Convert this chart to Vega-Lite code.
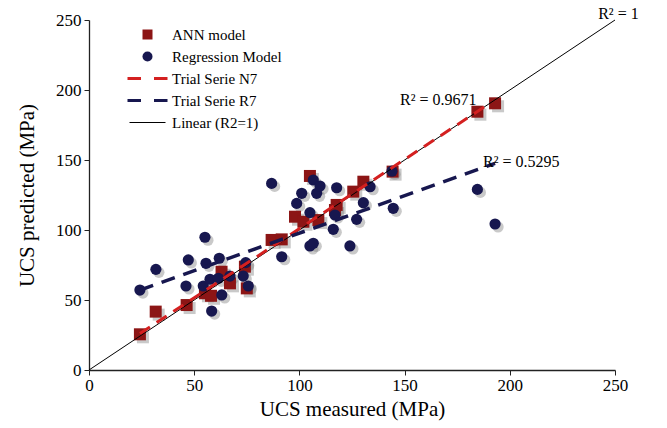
{
  "$schema": "https://vega.github.io/schema/vega-lite/v6.json",
  "width": 526,
  "height": 350,
  "autosize": {"type": "none"},
  "padding": {"left": 89, "top": 20, "right": 52, "bottom": 58},
  "background": "white",
  "config": {
    "view": {"stroke": null},
    "axis": {
      "grid": false,
      "domainColor": "#222",
      "domainWidth": 1.3,
      "tickColor": "#222",
      "tickSize": 5
    }
  },
  "datasets": {
    "pts": [
      {"series": "ANN model", "measured": 24.2, "predicted": 25.5},
      {"series": "ANN model", "measured": 31.7, "predicted": 41.7},
      {"series": "ANN model", "measured": 46.4, "predicted": 46.4},
      {"series": "ANN model", "measured": 55.1, "predicted": 54.8},
      {"series": "ANN model", "measured": 58.0, "predicted": 53.0},
      {"series": "ANN model", "measured": 63.0, "predicted": 70.2},
      {"series": "ANN model", "measured": 67.0, "predicted": 61.9},
      {"series": "ANN model", "measured": 74.1, "predicted": 73.8},
      {"series": "ANN model", "measured": 75.0, "predicted": 58.3},
      {"series": "ANN model", "measured": 86.8, "predicted": 92.9},
      {"series": "ANN model", "measured": 91.6, "predicted": 93.3},
      {"series": "ANN model", "measured": 97.9, "predicted": 109.5},
      {"series": "ANN model", "measured": 101.9, "predicted": 105.9},
      {"series": "ANN model", "measured": 105.0, "predicted": 138.6},
      {"series": "ANN model", "measured": 109.0, "predicted": 107.1},
      {"series": "ANN model", "measured": 116.9, "predicted": 114.3},
      {"series": "ANN model", "measured": 117.7, "predicted": 117.9},
      {"series": "ANN model", "measured": 125.6, "predicted": 127.4},
      {"series": "ANN model", "measured": 130.4, "predicted": 134.5},
      {"series": "ANN model", "measured": 144.3, "predicted": 141.7},
      {"series": "ANN model", "measured": 184.6, "predicted": 184.5},
      {"series": "ANN model", "measured": 193.0, "predicted": 190.5},
      {"series": "Regression Model", "measured": 24.2, "predicted": 57.1},
      {"series": "Regression Model", "measured": 31.8, "predicted": 71.9},
      {"series": "Regression Model", "measured": 46.1, "predicted": 60.0},
      {"series": "Regression Model", "measured": 47.2, "predicted": 78.6},
      {"series": "Regression Model", "measured": 54.3, "predicted": 60.0},
      {"series": "Regression Model", "measured": 55.1, "predicted": 94.8},
      {"series": "Regression Model", "measured": 55.6, "predicted": 76.2},
      {"series": "Regression Model", "measured": 57.5, "predicted": 64.8},
      {"series": "Regression Model", "measured": 58.3, "predicted": 42.1},
      {"series": "Regression Model", "measured": 61.5, "predicted": 65.5},
      {"series": "Regression Model", "measured": 61.9, "predicted": 79.8},
      {"series": "Regression Model", "measured": 63.1, "predicted": 53.6},
      {"series": "Regression Model", "measured": 67.0, "predicted": 67.1},
      {"series": "Regression Model", "measured": 73.3, "predicted": 67.1},
      {"series": "Regression Model", "measured": 74.5, "predicted": 76.7},
      {"series": "Regression Model", "measured": 75.7, "predicted": 60.0},
      {"series": "Regression Model", "measured": 86.8, "predicted": 133.3},
      {"series": "Regression Model", "measured": 91.6, "predicted": 80.9},
      {"series": "Regression Model", "measured": 98.7, "predicted": 119.0},
      {"series": "Regression Model", "measured": 101.1, "predicted": 126.2},
      {"series": "Regression Model", "measured": 105.0, "predicted": 112.4},
      {"series": "Regression Model", "measured": 105.0, "predicted": 88.6},
      {"series": "Regression Model", "measured": 106.6, "predicted": 90.5},
      {"series": "Regression Model", "measured": 106.6, "predicted": 135.7},
      {"series": "Regression Model", "measured": 108.2, "predicted": 126.2},
      {"series": "Regression Model", "measured": 109.8, "predicted": 131.4},
      {"series": "Regression Model", "measured": 116.1, "predicted": 100.5},
      {"series": "Regression Model", "measured": 116.9, "predicted": 110.7},
      {"series": "Regression Model", "measured": 117.7, "predicted": 130.2},
      {"series": "Regression Model", "measured": 124.0, "predicted": 88.6},
      {"series": "Regression Model", "measured": 127.2, "predicted": 107.6},
      {"series": "Regression Model", "measured": 130.4, "predicted": 119.5},
      {"series": "Regression Model", "measured": 133.6, "predicted": 130.9},
      {"series": "Regression Model", "measured": 144.0, "predicted": 142.0},
      {"series": "Regression Model", "measured": 144.6, "predicted": 115.5},
      {"series": "Regression Model", "measured": 184.6, "predicted": 129.0},
      {"series": "Regression Model", "measured": 193.0, "predicted": 104.3}
    ],
    "trend": [
      {"series": "Linear (R2=1)", "measured": 0, "predicted": 0},
      {"series": "Linear (R2=1)", "measured": 250, "predicted": 250},
      {"series": "Trial Serie N7", "measured": 24.2, "predicted": 26},
      {"series": "Trial Serie N7", "measured": 190, "predicted": 190},
      {"series": "Trial Serie R7", "measured": 24.2, "predicted": 57.1},
      {"series": "Trial Serie R7", "measured": 193, "predicted": 147.6}
    ],
    "notes": [
      {"label": "R² = 1", "measured": 242, "predicted": 254},
      {"label": "R² = 0.9671", "measured": 147.8, "predicted": 192.9},
      {"label": "R² = 0.5295", "measured": 187.3, "predicted": 148.6}
    ]
  },
  "encoding": {
    "x": {
      "field": "measured",
      "type": "quantitative",
      "title": "UCS measured (MPa)",
      "scale": {"domain": [0, 250], "nice": false, "zero": false},
      "axis": {
        "values": [0, 50, 100, 150, 200, 250], "labelPadding": 2, "titlePadding": 5, "labelFlush": false,
        "labelFont": "Liberation Serif", "labelFontSize": 17, "labelColor": "#000",
        "titleFont": "Liberation Serif", "titleFontSize": 21, "titleFontWeight": "normal", "titleColor": "#000"
      }
    },
    "y": {
      "field": "predicted",
      "type": "quantitative",
      "title": "UCS predicted (MPa)",
      "scale": {"domain": [0, 250], "nice": false, "zero": false},
      "axis": {
        "values": [0, 50, 100, 150, 200, 250], "labelPadding": 3, "titlePadding": 18, "labelFlush": false,
        "labelFont": "Liberation Serif", "labelFontSize": 17, "labelColor": "#000",
        "titleFont": "Liberation Serif", "titleFontSize": 21, "titleFontWeight": "normal", "titleColor": "#000"
      }
    }
  },
  "layer": [
    {
      "data": {"name": "pts"},
      "transform": [{"filter": "datum.series === 'ANN model'"}],
      "mark": {"type": "point", "shape": "square", "filled": true, "size": 144, "color": "#777", "opacity": 0.4, "xOffset": 3, "yOffset": 3}
    },
    {
      "data": {"name": "pts"},
      "transform": [{"filter": "datum.series === 'Regression Model'"}],
      "mark": {"type": "point", "shape": "circle", "filled": true, "size": 125, "color": "#777", "opacity": 0.4, "xOffset": 3, "yOffset": 3}
    },
    {
      "data": {"name": "pts"},
      "transform": [{"filter": "datum.series === 'ANN model'"}],
      "mark": {"type": "point", "filled": true, "size": 144, "opacity": 1},
      "encoding": {
        "color": {
          "field": "series",
          "type": "nominal",
          "scale": {
            "domain": ["ANN model", "Regression Model", "Trial Serie N7", "Trial Serie R7", "Linear (R2=1)"],
            "range": ["#8c1515", "#17174f", "#d42020", "#17174f", "#000000"]
          },
          "legend": {
            "title": null,
            "orient": "none",
            "legendX": 51,
            "legendY": 7,
            "padding": 0,
            "symbolSize": 100,
            "labelFont": "Liberation Serif",
            "labelFontSize": 15,
            "labelColor": "#000",
            "labelOffset": 17,
            "rowPadding": 6,
            "symbolOpacity": 1,
            "encode": {
              "symbols": {
                "update": {
                  "stroke": {"signal": "scale('color', datum.value)"},
                  "strokeWidth": {"signal": "datum.value === 'Linear (R2=1)' ? 1 : (datum.value === 'ANN model' || datum.value === 'Regression Model') ? 0 : 3"}
                }
              }
            }
          }
        },
        "shape": {
          "field": "series",
          "type": "nominal",
          "scale": {
            "domain": ["ANN model", "Regression Model", "Trial Serie N7", "Trial Serie R7", "Linear (R2=1)"],
            "range": ["square", "circle", "M-4,0H-1.3M1.3,0H4", "M-4,0H-1.3M1.3,0H4", "M-3.6,0H3.6"]
          }
        }
      }
    },
    {
      "data": {"name": "pts"},
      "transform": [{"filter": "datum.series === 'Regression Model'"}],
      "mark": {"type": "point", "filled": true, "size": 125, "opacity": 1},
      "encoding": {
        "color": {
          "field": "series",
          "type": "nominal",
          "scale": {
            "domain": ["ANN model", "Regression Model", "Trial Serie N7", "Trial Serie R7", "Linear (R2=1)"],
            "range": ["#8c1515", "#17174f", "#d42020", "#17174f", "#000000"]
          }
        },
        "shape": {
          "field": "series",
          "type": "nominal",
          "scale": {
            "domain": ["ANN model", "Regression Model", "Trial Serie N7", "Trial Serie R7", "Linear (R2=1)"],
            "range": ["square", "circle", "M-4,0H-1.3M1.3,0H4", "M-4,0H-1.3M1.3,0H4", "M-3.6,0H3.6"]
          }
        }
      }
    },
    {
      "data": {"name": "trend"},
      "transform": [{"filter": "datum.series === 'Linear (R2=1)'"}],
      "mark": {"type": "line", "color": "#000", "strokeWidth": 1}
    },
    {
      "data": {"name": "trend"},
      "transform": [{"filter": "datum.series === 'Trial Serie N7'"}],
      "mark": {"type": "line", "color": "#d42020", "strokeWidth": 3, "strokeDash": [12, 8]}
    },
    {
      "data": {"name": "trend"},
      "transform": [{"filter": "datum.series === 'Trial Serie R7'"}],
      "mark": {"type": "line", "color": "#17174f", "strokeWidth": 3.5, "strokeDash": [14, 9]}
    },
    {
      "data": {"name": "notes"},
      "mark": {"type": "text", "align": "left", "baseline": "middle", "font": "Liberation Serif", "fontSize": 16, "color": "#000"},
      "encoding": {"text": {"field": "label", "type": "nominal"}}
    }
  ]
}
